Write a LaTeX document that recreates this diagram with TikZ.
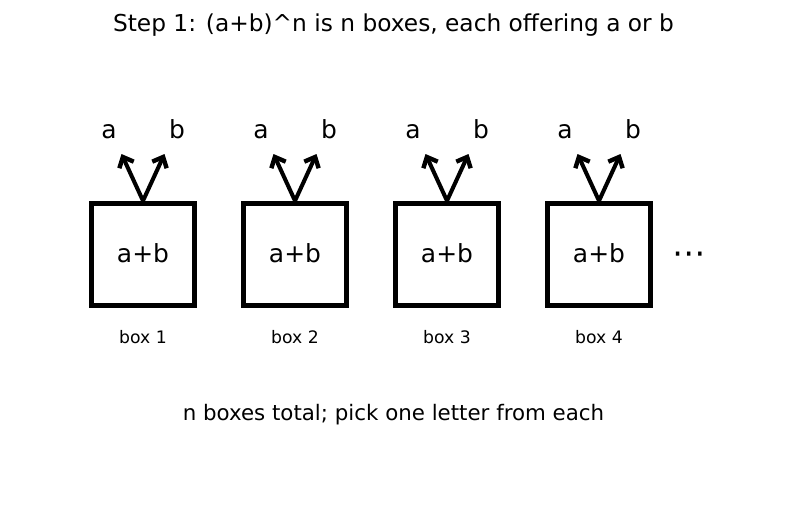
\documentclass[tikz,border=0pt]{standalone}
\usepackage{fontspec}
\setmainfont{DejaVu Sans}
\usetikzlibrary{arrows.meta,positioning,calc}

\tikzset{
  boxnode/.style={draw, line width=2.8pt, minimum width=2.07cm, minimum height=2.05cm, inner sep=0pt},
  pickarrow/.style={line width=2.3pt, -{Straight Barb[length=5pt,width=9pt,line width=2.5pt]}},
  letter/.style={anchor=base, font=\fontsize{14.2}{16}\selectfont},
  boxlabel/.style={anchor=base, font=\fontsize{9.8}{12}\selectfont}
}

\begin{document}
\begin{tikzpicture}[x=0.02cm, y=-0.02cm]
    \useasboundingbox (0,0) rectangle (787,510);
    \node[anchor=base, font=\fontsize{13.25}{15}\selectfont] (title) at (393.5,32) {Step 1: (a+b)\^{}n is n boxes, each offering a or b};

    \foreach \i/\x in {1/143, 2/295, 3/447, 4/599} {
        \node[boxnode] (box\i) at (\x,254.5) {};
        \node[letter] (sum\i) at (\x,262) {a+b};
        \node[boxlabel] (lab\i) at (\x,343.3) {box \i};
        \coordinate (ea\i) at ($(\x,154)+(-21.5,0)$);
        \coordinate (eb\i) at ($(\x,154)+(21.5,0)$);
        \node[letter] (la\i) at ($(\x,138)+(-34,0)$) {a};
        \node[letter] (lb\i) at ($(\x,138)+(34,0)$) {b};
        \draw[pickarrow] (box\i.north) -- (ea\i);
        \draw[pickarrow] (box\i.north) -- (eb\i);
    }

    \node[anchor=base, font=\fontsize{19}{21}\selectfont] (dots) at (689.5,264) {⋯};
    \node[anchor=base, font=\fontsize{12.15}{14}\selectfont] (total) at (393.5,420) {n boxes total; pick one letter from each};
\end{tikzpicture}
\end{document}
